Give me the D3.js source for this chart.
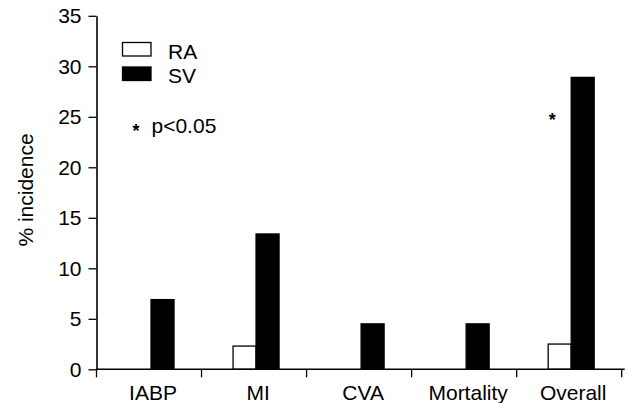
<!DOCTYPE html>
<html>
<head>
<meta charset="utf-8">
<script src="https://cdn.jsdelivr.net/npm/d3@7"></script>
<style>
  body { margin: 0; background: #fff; }
  text { font-family: "Liberation Sans", Arial, sans-serif; fill: #000; }
</style>
</head>
<body>
<div id="chart"></div>
<script>
// donnees
const categories = ["IABP", "MI", "CVA", "Mortality", "Overall"];
const series = ["RA", "SV"];
const valuesRA = [0, 2.3, 0, 0, 2.5];
const valuesSV = [6.9, 13.4, 4.5, 4.5, 28.9];
const yTicks = [0, 5, 10, 15, 20, 25, 30, 35];

const W = 627, H = 403;
const mLeft = 96.5, mRight = 621.7, mTop = 15.8, mBottom = 369.3;
const barW = 23;
const fs = 21; // taille police

const svg = d3.select("#chart").append("svg")
  .attr("width", W).attr("height", H);

// echelles
const x0 = d3.scaleBand().domain(categories).range([mLeft, mRight]).padding(0);
const bw = x0.bandwidth();
const x1 = d3.scaleBand().domain(series)
  .range([bw / 2 - barW + 2, bw / 2 + barW + 2]).padding(0);
const y = d3.scaleLinear().domain([0, 35]).range([mBottom, mTop]);

const rows = categories.map((c, i) => ({cat: c, RA: valuesRA[i], SV: valuesSV[i]}));
const fill = {RA: "#fff", SV: "#000"};

// barres
svg.append("g").selectAll("g")
  .data(rows)
  .join("g")
    .attr("transform", d => `translate(${x0(d.cat)},0)`)
  .selectAll("rect")
  .data(d => series.map(s => ({s, v: d[s]})).filter(e => e.v > 0))
  .join("rect")
    .attr("x", e => x1(e.s))
    .attr("y", e => y(e.v))
    .attr("width", x1.bandwidth())
    .attr("height", e => y(0) - y(e.v))
    .attr("fill", e => fill[e.s])
    .attr("stroke", "#000")
    .attr("stroke-width", 1.3);

// axe Y
const yAxis = svg.append("g")
  .attr("transform", `translate(${mLeft},0)`)
  .call(d3.axisLeft(y).tickValues(yTicks).tickSize(8).tickPadding(7).tickSizeOuter(0));
yAxis.select(".domain").attr("stroke-width", 1.6);
yAxis.selectAll(".tick line").attr("stroke-width", 1.3);
yAxis.selectAll("text").attr("font-size", fs).style("font-family", "'Liberation Sans', Arial, sans-serif");

// axe X : ticks aux limites des categories
const xAxis = svg.append("g")
  .attr("transform", `translate(0,${mBottom})`);
xAxis.append("line")
  .attr("x1", mLeft).attr("x2", mRight + 3)
  .attr("stroke", "#000").attr("stroke-width", 1.6);
const bounds = categories.map(c => x0(c)).concat([x0(categories[categories.length - 1]) + bw]);
xAxis.selectAll("line.tk")
  .data(bounds)
  .join("line")
    .attr("class", "tk")
    .attr("x1", d => d).attr("x2", d => d)
    .attr("y1", 0).attr("y2", 8)
    .attr("stroke", "#000").attr("stroke-width", 1.3);
xAxis.selectAll("text")
  .data(categories)
  .join("text")
    .attr("x", d => x0(d) + bw / 2 + 4)
    .attr("y", 31)
    .attr("text-anchor", "middle")
    .attr("font-size", fs)
    .text(d => d);

// titre axe Y
svg.append("text")
  .attr("transform", "translate(32.5,190) rotate(-90)")
  .attr("text-anchor", "middle")
  .attr("font-size", fs)
  .text("% incidence");

// legende
const leg = svg.append("g");
series.forEach((s, i) => {
  leg.append("rect")
    .attr("x", 122.5).attr("y", 42.5 + i * 24.5)
    .attr("width", 28.5).attr("height", 13.5)
    .attr("fill", fill[s]).attr("stroke", "#000").attr("stroke-width", 1.3);
  leg.append("text")
    .attr("x", 168).attr("y", 59 + i * 24)
    .attr("font-size", fs)
    .text(s);
});

// note significativite
svg.append("text").attr("x", 132.5).attr("y", 137).attr("font-size", 18).attr("font-weight", "bold").text("*");
svg.append("text").attr("x", 151.5).attr("y", 133).attr("font-size", fs).text("p<0.05");

// asterisque sur Overall
svg.append("text")
  .attr("x", x0("Overall") + x1("RA") + 0.5)
  .attr("y", y(24.1))
  .attr("font-size", 18)
  .attr("font-weight", "bold")
  .text("*");
</script>
</body>
</html>
